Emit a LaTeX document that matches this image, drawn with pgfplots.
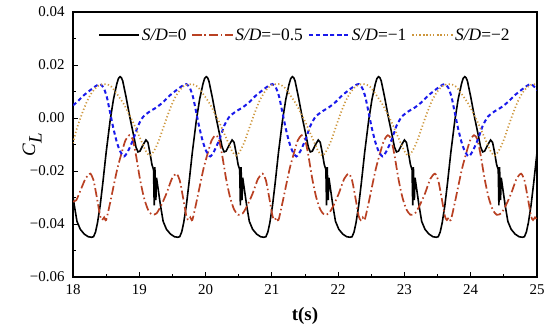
\documentclass[border=0pt]{standalone}
\usepackage{fontspec}
\setmainfont{Liberation Serif}
\usepackage{pgfplots}
\pgfplotsset{compat=1.18}
\usetikzlibrary{calc}
\definecolor{cred}{RGB}{185,65,35}
\definecolor{cblue}{RGB}{25,25,235}
\definecolor{corange}{RGB}{205,150,60}
\begin{document}
\begin{tikzpicture}
\begin{axis}[name=ax, scale only axis, width=464bp, height=265bp,
  xmin=18, xmax=25, ymin=-0.06, ymax=0.04,
  scaled y ticks=false, scaled x ticks=false,
  xtick={18,19,20,21,22,23,24,25}, xticklabels={18,19,20,21,22,23,24,25},
  ytick={-0.06,-0.04,-0.02,0,0.02,0.04}, yticklabels={−0.06,−0.04,−0.02,0.00,0.02,0.04},
  minor x tick num=1, minor y tick num=1,
  tick align=inside, tick pos=left,
  major tick length=5bp, minor tick length=3bp,
  every tick/.style={black, line width=1bp},
  axis line style={line width=1.4bp},
  tick label style={font=\fontsize{15}{15}\selectfont},
  xticklabel style={yshift=-4bp},
  yticklabel style={xshift=-5bp},
  xlabel={\textbf{t(s)}}, ylabel={\textit{C}$_{\textit{L}}$},
  every axis x label/.style={at={(axis description cs:0.5,-0.147)}, anchor=center, font=\fontsize{19}{19}\selectfont},
  every axis y label/.style={at={(axis description cs:-0.088,0.5)}, anchor=center, rotate=90, font=\fontsize{19}{19}\selectfont},
  legend columns=4,
  legend style={draw=none, fill=none, at={(0.5,0.913)}, anchor=center,
    font=\fontsize{17.5}{18}\selectfont,
    /tikz/every even column/.append style={column sep=3bp},
    inner sep=0pt},
  legend image code/.code={\draw[#1] plot coordinates {(0bp,0bp) (20bp,0bp) (40bp,0bp)};},
]
% S/D = 0
\addplot[black, line width=1.6bp] coordinates {
(18.00,-0.0295)(18.02,-0.0330)(18.06,-0.0390)(18.11,-0.0420)(18.17,-0.0438)(18.23,-0.0448)
(18.28,-0.0450)(18.31,-0.0448)(18.34,-0.0430)(18.37,-0.0395)(18.41,-0.0330)(18.45,-0.0245)(18.50,-0.0130)(18.56,-0.0010)(18.61,0.0070)(18.66,0.0128)(18.685,0.0149)(18.71,0.0156)(18.73,0.0152)(18.75,0.0140)(18.80,0.0080)(18.86,0.0000)(18.91,-0.0060)(18.95,-0.0110)(18.98,-0.0128)(19.01,-0.0125)(19.06,-0.0100)(19.10,-0.0083)(19.13,-0.0092)(19.16,-0.0130)(19.19,-0.0175)(19.215,-0.0195)(19.225,-0.0330)(19.235,-0.0185)(19.25,-0.0310)(19.26,-0.0225)(19.28,-0.0260)(19.32,-0.0330)(19.36,-0.0390)(19.41,-0.0420)(19.47,-0.0438)(19.53,-0.0448)
(19.58,-0.0450)(19.61,-0.0448)(19.64,-0.0430)(19.67,-0.0395)(19.71,-0.0330)(19.75,-0.0245)(19.80,-0.0130)(19.86,-0.0010)(19.91,0.0070)(19.96,0.0128)(19.985,0.0149)(20.01,0.0156)(20.03,0.0152)(20.05,0.0140)(20.10,0.0080)(20.16,0.0000)(20.21,-0.0060)(20.25,-0.0110)(20.28,-0.0128)(20.31,-0.0125)(20.36,-0.0100)(20.40,-0.0083)(20.43,-0.0092)(20.46,-0.0130)(20.49,-0.0175)(20.515,-0.0195)(20.525,-0.0330)(20.535,-0.0185)(20.55,-0.0310)(20.56,-0.0225)(20.58,-0.0260)(20.62,-0.0330)(20.66,-0.0390)(20.71,-0.0420)(20.77,-0.0438)(20.83,-0.0448)
(20.88,-0.0450)(20.91,-0.0448)(20.94,-0.0430)(20.97,-0.0395)(21.01,-0.0330)(21.05,-0.0245)(21.10,-0.0130)(21.16,-0.0010)(21.21,0.0070)(21.26,0.0128)(21.285,0.0149)(21.31,0.0156)(21.33,0.0152)(21.35,0.0140)(21.40,0.0080)(21.46,0.0000)(21.51,-0.0060)(21.55,-0.0110)(21.58,-0.0128)(21.61,-0.0125)(21.66,-0.0100)(21.70,-0.0083)(21.73,-0.0092)(21.76,-0.0130)(21.79,-0.0175)(21.815,-0.0195)(21.825,-0.0330)(21.835,-0.0185)(21.85,-0.0310)(21.86,-0.0225)(21.88,-0.0260)(21.92,-0.0330)(21.96,-0.0390)(22.01,-0.0420)(22.07,-0.0438)(22.13,-0.0448)
(22.18,-0.0450)(22.21,-0.0448)(22.24,-0.0430)(22.27,-0.0395)(22.31,-0.0330)(22.35,-0.0245)(22.40,-0.0130)(22.46,-0.0010)(22.51,0.0070)(22.56,0.0128)(22.585,0.0149)(22.61,0.0156)(22.63,0.0152)(22.65,0.0140)(22.70,0.0080)(22.76,0.0000)(22.81,-0.0060)(22.85,-0.0110)(22.88,-0.0128)(22.91,-0.0125)(22.96,-0.0100)(23.00,-0.0083)(23.03,-0.0092)(23.06,-0.0130)(23.09,-0.0175)(23.115,-0.0195)(23.125,-0.0330)(23.135,-0.0185)(23.15,-0.0310)(23.16,-0.0225)(23.18,-0.0260)(23.22,-0.0330)(23.26,-0.0390)(23.31,-0.0420)(23.37,-0.0438)(23.43,-0.0448)
(23.48,-0.0450)(23.51,-0.0448)(23.54,-0.0430)(23.57,-0.0395)(23.61,-0.0330)(23.65,-0.0245)(23.70,-0.0130)(23.76,-0.0010)(23.81,0.0070)(23.86,0.0128)(23.885,0.0149)(23.91,0.0156)(23.93,0.0152)(23.95,0.0140)(24.00,0.0080)(24.06,0.0000)(24.11,-0.0060)(24.15,-0.0110)(24.18,-0.0128)(24.21,-0.0125)(24.26,-0.0100)(24.30,-0.0083)(24.33,-0.0092)(24.36,-0.0130)(24.39,-0.0175)(24.415,-0.0195)(24.425,-0.0330)(24.435,-0.0185)(24.45,-0.0310)(24.46,-0.0225)(24.48,-0.0260)(24.52,-0.0330)(24.56,-0.0390)(24.61,-0.0420)(24.67,-0.0438)(24.73,-0.0448)
(24.78,-0.0450)(24.81,-0.0448)(24.84,-0.0430)(24.87,-0.0395)(24.91,-0.0330)(24.95,-0.0245)(25.00,-0.0130)
};
\addlegendentry{\textit{S/D}=0}
% S/D = -0.5
\addplot[cred, line width=1.7bp, dash pattern=on 9bp off 3bp on 1.5bp off 3bp, smooth, tension=0.4] coordinates {
(18.00,-0.0315)(18.05,-0.0310)(18.11,-0.0275)(18.19,-0.0228)
(18.26,-0.0210)(18.31,-0.0235)(18.36,-0.0300)(18.41,-0.0370)(18.44,-0.0385)(18.47,-0.0375)(18.50,-0.0385)(18.56,-0.0320)(18.61,-0.0260)(18.67,-0.0190)(18.73,-0.0135)(18.79,-0.0085)(18.85,-0.0065)(18.90,-0.0080)(18.95,-0.0140)(19.01,-0.0230)(19.07,-0.0300)(19.13,-0.0345)(19.19,-0.0365)(19.26,-0.0360)(19.33,-0.0330)(19.41,-0.0285)(19.49,-0.0230)
(19.56,-0.0210)(19.61,-0.0235)(19.66,-0.0300)(19.71,-0.0370)(19.74,-0.0385)(19.77,-0.0375)(19.80,-0.0385)(19.86,-0.0320)(19.91,-0.0260)(19.97,-0.0190)(20.03,-0.0135)(20.09,-0.0085)(20.15,-0.0065)(20.20,-0.0080)(20.25,-0.0140)(20.31,-0.0230)(20.37,-0.0300)(20.43,-0.0345)(20.49,-0.0365)(20.56,-0.0360)(20.63,-0.0330)(20.71,-0.0285)(20.79,-0.0230)
(20.86,-0.0210)(20.91,-0.0235)(20.96,-0.0300)(21.01,-0.0370)(21.04,-0.0385)(21.07,-0.0375)(21.10,-0.0385)(21.16,-0.0320)(21.21,-0.0260)(21.27,-0.0190)(21.33,-0.0135)(21.39,-0.0085)(21.45,-0.0065)(21.50,-0.0080)(21.55,-0.0140)(21.61,-0.0230)(21.67,-0.0300)(21.73,-0.0345)(21.79,-0.0365)(21.86,-0.0360)(21.93,-0.0330)(22.01,-0.0285)(22.09,-0.0230)
(22.16,-0.0210)(22.21,-0.0235)(22.26,-0.0300)(22.31,-0.0370)(22.34,-0.0385)(22.37,-0.0375)(22.40,-0.0385)(22.46,-0.0320)(22.51,-0.0260)(22.57,-0.0190)(22.63,-0.0135)(22.69,-0.0085)(22.75,-0.0065)(22.80,-0.0080)(22.85,-0.0140)(22.91,-0.0230)(22.97,-0.0300)(23.03,-0.0345)(23.09,-0.0365)(23.16,-0.0360)(23.23,-0.0330)(23.31,-0.0285)(23.39,-0.0230)
(23.46,-0.0210)(23.51,-0.0235)(23.56,-0.0300)(23.61,-0.0370)(23.64,-0.0385)(23.67,-0.0375)(23.70,-0.0385)(23.76,-0.0320)(23.81,-0.0260)(23.87,-0.0190)(23.93,-0.0135)(23.99,-0.0085)(24.05,-0.0065)(24.10,-0.0080)(24.15,-0.0140)(24.21,-0.0230)(24.27,-0.0300)(24.33,-0.0345)(24.39,-0.0365)(24.46,-0.0360)(24.53,-0.0330)(24.61,-0.0285)(24.69,-0.0230)
(24.76,-0.0210)(24.81,-0.0235)(24.86,-0.0300)(24.91,-0.0370)(24.94,-0.0385)(24.97,-0.0375)(25.00,-0.0385)
};
\addlegendentry{\textit{S/D}=−0.5}
% S/D = -1
\addplot[cblue, line width=2bp, dash pattern=on 4bp off 3bp, smooth, tension=0.4] coordinates {
(18.00,0.0048)(18.06,0.0060)(18.16,0.0085)(18.26,0.0105)(18.34,0.0120)(18.38,0.0126)
(18.41,0.0128)(18.46,0.0115)(18.51,0.0080)(18.56,0.0020)(18.61,-0.0040)(18.66,-0.0090)(18.71,-0.0125)(18.77,-0.0145)(18.83,-0.0125)(18.91,-0.0080)(18.98,-0.0030)(19.06,0.0005)(19.16,0.0025)(19.26,0.0040)(19.36,0.0060)(19.46,0.0085)(19.56,0.0105)(19.64,0.0120)(19.68,0.0126)
(19.71,0.0128)(19.76,0.0115)(19.81,0.0080)(19.86,0.0020)(19.91,-0.0040)(19.96,-0.0090)(20.01,-0.0125)(20.07,-0.0145)(20.13,-0.0125)(20.21,-0.0080)(20.28,-0.0030)(20.36,0.0005)(20.46,0.0025)(20.56,0.0040)(20.66,0.0060)(20.76,0.0085)(20.86,0.0105)(20.94,0.0120)(20.98,0.0126)
(21.01,0.0128)(21.06,0.0115)(21.11,0.0080)(21.16,0.0020)(21.21,-0.0040)(21.26,-0.0090)(21.31,-0.0125)(21.37,-0.0145)(21.43,-0.0125)(21.51,-0.0080)(21.58,-0.0030)(21.66,0.0005)(21.76,0.0025)(21.86,0.0040)(21.96,0.0060)(22.06,0.0085)(22.16,0.0105)(22.24,0.0120)(22.28,0.0126)
(22.31,0.0128)(22.36,0.0115)(22.41,0.0080)(22.46,0.0020)(22.51,-0.0040)(22.56,-0.0090)(22.61,-0.0125)(22.67,-0.0145)(22.73,-0.0125)(22.81,-0.0080)(22.88,-0.0030)(22.96,0.0005)(23.06,0.0025)(23.16,0.0040)(23.26,0.0060)(23.36,0.0085)(23.46,0.0105)(23.54,0.0120)(23.58,0.0126)
(23.61,0.0128)(23.66,0.0115)(23.71,0.0080)(23.76,0.0020)(23.81,-0.0040)(23.86,-0.0090)(23.91,-0.0125)(23.97,-0.0145)(24.03,-0.0125)(24.11,-0.0080)(24.18,-0.0030)(24.26,0.0005)(24.36,0.0025)(24.46,0.0040)(24.56,0.0060)(24.66,0.0085)(24.76,0.0105)(24.84,0.0120)(24.88,0.0126)
(24.91,0.0128)(24.96,0.0118)(25.00,0.0105)
};
\addlegendentry{\textit{S/D}=−1}
% S/D = -2
\addplot[corange, line width=1.7bp, dash pattern=on 1.2bp off 2.3bp, smooth, tension=0.5] coordinates {
(18.00,-0.0095)(18.06,-0.0038)(18.13,0.0012)(18.21,0.0062)(18.29,0.0098)(18.37,0.0120)(18.44,0.0127)
(18.50,0.0128)(18.58,0.0118)(18.66,0.0092)(18.76,0.0055)(18.83,0.0022)(18.91,-0.0018)(18.98,-0.0058)(19.04,-0.0092)(19.10,-0.0125)(19.16,-0.0142)(19.22,-0.0125)(19.29,-0.0088)(19.36,-0.0038)(19.43,0.0012)(19.51,0.0062)(19.59,0.0098)(19.67,0.0120)(19.74,0.0127)
(19.80,0.0128)(19.88,0.0118)(19.96,0.0092)(20.06,0.0055)(20.13,0.0022)(20.21,-0.0018)(20.28,-0.0058)(20.34,-0.0092)(20.40,-0.0125)(20.46,-0.0142)(20.52,-0.0125)(20.59,-0.0088)(20.66,-0.0038)(20.73,0.0012)(20.81,0.0062)(20.89,0.0098)(20.97,0.0120)(21.04,0.0127)
(21.10,0.0128)(21.18,0.0118)(21.26,0.0092)(21.36,0.0055)(21.43,0.0022)(21.51,-0.0018)(21.58,-0.0058)(21.64,-0.0092)(21.70,-0.0125)(21.76,-0.0142)(21.82,-0.0125)(21.89,-0.0088)(21.96,-0.0038)(22.03,0.0012)(22.11,0.0062)(22.19,0.0098)(22.27,0.0120)(22.34,0.0127)
(22.40,0.0128)(22.48,0.0118)(22.56,0.0092)(22.66,0.0055)(22.73,0.0022)(22.81,-0.0018)(22.88,-0.0058)(22.94,-0.0092)(23.00,-0.0125)(23.06,-0.0142)(23.12,-0.0125)(23.19,-0.0088)(23.26,-0.0038)(23.33,0.0012)(23.41,0.0062)(23.49,0.0098)(23.57,0.0120)(23.64,0.0127)
(23.70,0.0128)(23.78,0.0118)(23.86,0.0092)(23.96,0.0055)(24.03,0.0022)(24.11,-0.0018)(24.18,-0.0058)(24.24,-0.0092)(24.30,-0.0125)(24.36,-0.0142)(24.42,-0.0125)(24.49,-0.0088)(24.56,-0.0038)(24.63,0.0012)(24.71,0.0062)(24.79,0.0098)(24.87,0.0120)(24.94,0.0127)
(25.00,0.0128)
};
\addlegendentry{\textit{S/D}=−2}
\end{axis}
\path ($(ax.south west)+(-73bp,-53bp)$) rectangle ($(ax.north east)+(13bp,12bp)$);
\end{tikzpicture}
\end{document}
